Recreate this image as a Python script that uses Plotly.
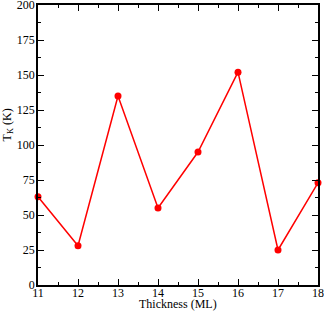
import plotly.graph_objects as go

thickness = [11, 12, 13, 14, 15, 16, 17, 18]
tk = [63, 28, 135, 55, 95, 152, 25, 73]

fig = go.Figure()
fig.add_trace(go.Scatter(x=thickness, y=tk, mode="lines+markers",
                         line=dict(color="#ff0000", width=1.5),
                         marker=dict(color="#ff0000", size=7),
                         showlegend=False, cliponaxis=False))

font = dict(family="Liberation Serif", size=12, color="black")
axis_common = dict(showline=True, linecolor="black", linewidth=1.5, mirror="ticks",
                   ticks="inside", ticklen=6, tickwidth=1, tickcolor="black",
                   showgrid=False, zeroline=False, automargin=False,
                   ticklabeloverflow="allow", tickfont=font)

fig.update_xaxes(range=[11, 18], dtick=1, tick0=11, ticklabelstandoff=-4,
                 minor=dict(ticks="inside", ticklen=3, dtick=0.5, tickcolor="black"),
                 **axis_common)
fig.update_yaxes(range=[0, 200], dtick=25, tick0=0, ticklabelstandoff=-1,
                 minor=dict(ticks="inside", ticklen=3, dtick=12.5, tickcolor="black"),
                 **axis_common)

fig.add_annotation(text="Thickness (ML)", xref="paper", yref="paper", x=0.5, y=0,
                   yshift=-19, xanchor="center", yanchor="middle", showarrow=False, font=font)
fig.add_annotation(text="T<sub>K</sub> (K)", xref="paper", yref="paper", x=0, y=0.57,
                   xshift=-30, xanchor="center", yanchor="middle", textangle=-90,
                   showarrow=False, font=font)

fig.update_layout(width=324, height=311, margin=dict(l=38, r=6, t=5, b=26),
                  plot_bgcolor="white", paper_bgcolor="white")
fig.write_html("out.html", config={"displayModeBar": False},
               post_script="document.body.style.margin='0';")
